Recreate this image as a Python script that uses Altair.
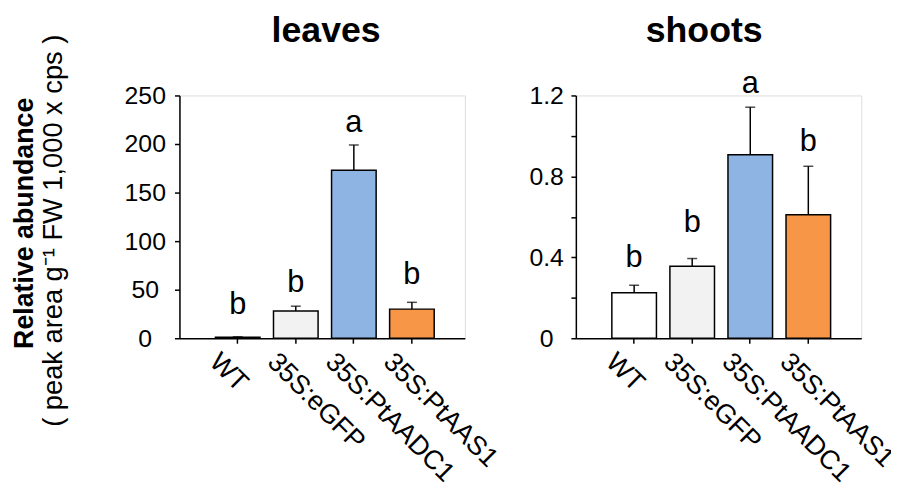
import altair as alt
import pandas as pd

# ---------------- data ----------------
genotypes = ["WT", "35S:eGFP", "35S:PtAADC1", "35S:PtAAS1"]
bar_colors = ["#FFFFFF", "#F2F2F2", "#8EB4E3", "#F79646"]

leaves_mean = [1, 28, 173, 30]
leaves_err = [0.5, 5, 26, 7]
leaves_letters = ["b", "b", "a", "b"]
leaves_letter_y = [24.5, 48, 212.6, 55.4]
leaves_ticks = [0, 50, 100, 150, 200, 250]

shoots_mean = [0.225, 0.356, 0.907, 0.61]
shoots_err = [0.037, 0.038, 0.235, 0.24]
shoots_letters = ["b", "b", "a", "b"]
shoots_letter_y = [0.351, 0.523, 1.214, 0.925]
shoots_ticks = [0, 0.2, 0.4, 0.6, 0.8, 1.0, 1.2]

ytitle_main = "Relative abundance"
ytitle_sub = "( peak area g\u207b\u00b9 FW 1,000 x cps )"

FONT = "Liberation Sans"
W, H = 288, 245


def panel(mean, err, letters, letter_y, ymax, ticks, label_expr, label_pad,
          title, title_dx, with_ytitle):
    df = pd.DataFrame({
        "g": genotypes,
        "m": mean,
        "top": [m + e for m, e in zip(mean, err)],
        "letter": letters,
        "ly": letter_y,
    })
    xaxis = alt.Axis(title=None, labelAngle=45, labelAlign="left",
                     labelBaseline="top", labelOffset=-15, labelPadding=5,
                     tickSize=5, tickWidth=1.5, tickColor="black",
                     domainColor="black", domainWidth=1.5,
                     labelFont=FONT, labelFontSize=27, labelColor="black",
                     labelLimit=400, grid=False)
    xscale = alt.Scale(paddingInner=0.232, paddingOuter=0.574, align=0.54)
    x = alt.X("g:N", sort=genotypes, scale=xscale, axis=xaxis)

    yaxis = alt.Axis(title=None, values=ticks, labelExpr=label_expr,
                     labelAlign="center", labelBaseline="middle",
                     labelPadding=label_pad, tickSize=5, tickWidth=1.5,
                     tickColor="black", domainColor="black", domainWidth=1.5,
                     labelFont=FONT, labelFontSize=25, labelColor="black",
                     grid=False)
    yscale = alt.Scale(domain=[0, ymax], nice=False, zero=True)

    base = alt.Chart(df)
    err_line = base.mark_rule(color="black", strokeWidth=1.5).encode(
        x=x, y=alt.Y("m:Q", scale=yscale, axis=yaxis), y2="top:Q")
    caps = base.mark_tick(orient="horizontal", size=10, thickness=1.5,
                          color="black").encode(
        x=x, y=alt.Y("top:Q", scale=yscale, axis=yaxis))
    bars = base.mark_bar(stroke="black", strokeWidth=1.5).encode(
        x=x, y=alt.Y("m:Q", scale=yscale, axis=yaxis),
        color=alt.Color("g:N", scale=alt.Scale(domain=genotypes, range=bar_colors),
                        legend=None))
    labels = base.mark_text(font=FONT, fontSize=31, baseline="alphabetic",
                            align="center", color="black").encode(
        x=x, y=alt.Y("ly:Q", scale=yscale, axis=yaxis), text="letter:N")
    ttl = alt.Chart(pd.DataFrame({"t": [title]})).mark_text(
        font=FONT, fontSize=36, fontWeight="bold", baseline="alphabetic",
        align="center", color="black").encode(
        x=alt.value(W / 2 + title_dx), y=alt.value(-54), text="t:N")
    layers = [err_line, caps, bars, labels, ttl]
    if with_ytitle:
        t1 = alt.Chart(pd.DataFrame({"t": [ytitle_main]})).mark_text(
            font=FONT, fontSize=27, fontWeight="bold", baseline="alphabetic",
            align="center", angle=270, color="black").encode(
            x=alt.value(-148), y=alt.value(129), text="t:N")
        t2 = alt.Chart(pd.DataFrame({"t": [ytitle_sub]})).mark_text(
            font=FONT, fontSize=27.5, baseline="alphabetic",
            align="center", angle=270, color="black").encode(
            x=alt.value(-119), y=alt.value(136.5), text="t:N")
        layers += [t1, t2]
    return alt.layer(*layers).properties(width=W, height=H)


left = panel(leaves_mean, leaves_err, leaves_letters, leaves_letter_y, 250,
             leaves_ticks, "datum.label", 30, "leaves", 4, True)
right = panel(shoots_mean, shoots_err, shoots_letters, shoots_letter_y, 1.2,
              shoots_ticks,
              "abs(datum.value - round(datum.value / 0.4) * 0.4) < 0.001 ? "
              "(datum.value == 0 ? '0' : format(datum.value, '.1f')) : ''",
              25, "shoots", -14.5, False)

chart = alt.hconcat(left, right, spacing=112, bounds="flush").properties(
    autosize=alt.AutoSizeParams(type="none"),
    padding={"left": 173, "top": 85, "right": 718, "bottom": 387}
).configure_view(stroke=None).configure(background="white")

chart.save("out.html", embed_options={"renderer": "svg", "actions": False})
